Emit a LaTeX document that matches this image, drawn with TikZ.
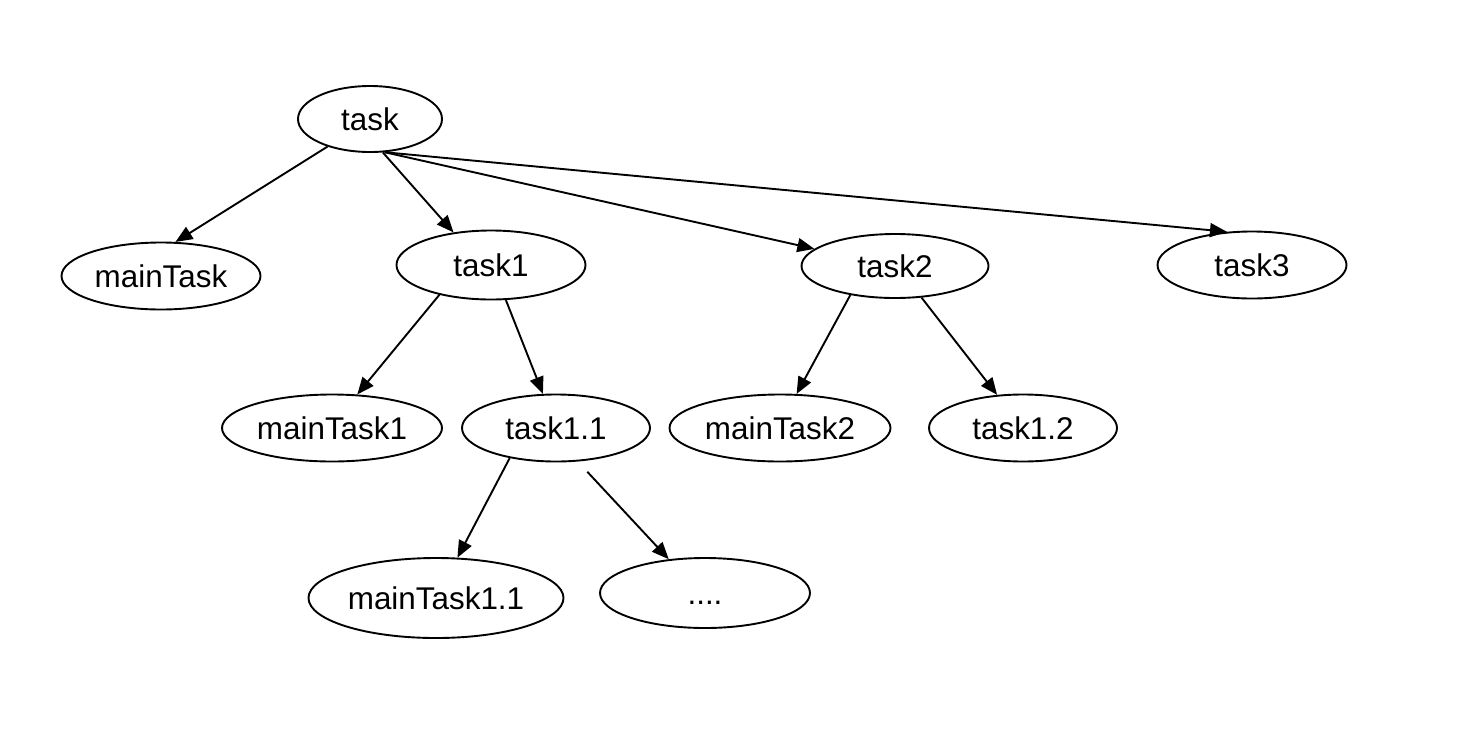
\documentclass[tikz,border=0pt]{standalone}
\usepackage{fontspec}
\setmainfont{Liberation Sans}
\usetikzlibrary{shapes.geometric,arrows.meta}

\begin{document}
\begin{tikzpicture}[x=0.5pt,y=-0.5pt]
            \tikzstyle{every node}+=[inner sep=0pt, font=\fontsize{15.7}{18}\selectfont, text height=11.2pt, text depth=0pt]
            \tikzstyle{tasknode}=[draw=black, ellipse, line width=0.95pt, minimum height=33.5pt]
            \tikzstyle{link}=[draw=black, line width=0.95pt, -{Triangle[length=8.5pt,width=7pt]}]
            \useasboundingbox (0,0) rectangle (1472,740);
            \node [tasknode, minimum width=72pt, minimum height=33pt] (task) at (370,119) {task};
            \node [tasknode, minimum width=99.5pt] (mainTask) at (161,276) {mainTask};
            \node [tasknode, minimum width=94.5pt, minimum height=34.5pt] (task1) at (491,265) {task1};
            \node [tasknode, minimum width=93.5pt, minimum height=32pt] (task2) at (895,266) {task2};
            \node [tasknode, minimum width=94.5pt] (task3) at (1252,265) {task3};
            \node [tasknode, minimum width=110pt] (mainTask1) at (332,428) {mainTask1};
            \node [tasknode, minimum width=94pt] (task11) at (556,428) {task1.1};
            \node [tasknode, minimum width=110.5pt] (mainTask2) at (780,428) {mainTask2};
            \node [tasknode, minimum width=94pt] (task12) at (1023,428) {task1.2};
            \node [tasknode, minimum width=127.5pt, minimum height=40pt] (mainTask11) at (436,598) {mainTask1.1};
            \node [tasknode, minimum width=105pt, minimum height=35pt] (more) at (705,593) {....};
            % edges
            \draw [link] (task.213) -- (mainTask.67);
            \draw [link] (task.291) -- (task1.139);
            \draw [link] (task.294) -- (task2.168);
            \draw [link] (task.294) -- (task3.127);
            \draw [link] (task1.210) -- (mainTask1.53);
            \draw [link] (task1.293) -- (task11.111);
            \draw [link] (task2.213) -- (mainTask2.64);
            \draw [link] (task2.310) -- (task12.128);
            \draw [link] (task11.213) -- (mainTask11.62);
            \draw [link, shorten <=7pt] (task11.303) -- (more.137);
\end{tikzpicture}
\end{document}
